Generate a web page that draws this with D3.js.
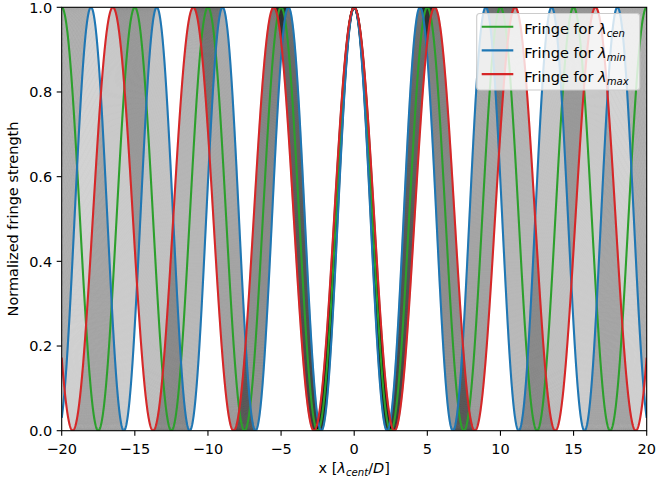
<!DOCTYPE html>
<html>
<head>
<meta charset="utf-8">
<script src="https://cdn.jsdelivr.net/npm/d3@7"></script>
<style>
  html, body { margin: 0; padding: 0; background: #fff; }
  svg { display: block; font-family: "DejaVu Sans", sans-serif; }
</style>
</head>
<body>
<svg id="chart" width="656" height="484"></svg>
<script>
// ---- data ----
const fringePeriod = 5;              // fringe spacing for lambda_cen, in lambda_cent/D
const lambdaCen = 1.0;
const seriesLabels = ["cen", "min", "max"];
const seriesLambdas = [1.0, 0.9, 1.1];  // relative to lambda_cen
const seriesColors = ["#2ca02c", "#1f77b4", "#d62728"];
const bandLambdas = [
  0.900,0.902,0.904,0.906,0.908,0.910,0.912,0.914,0.916,0.918,
  0.920,0.922,0.924,0.926,0.928,0.930,0.932,0.934,0.936,0.938,
  0.940,0.942,0.944,0.946,0.948,0.950,0.952,0.954,0.956,0.958,
  0.960,0.962,0.964,0.966,0.968,0.970,0.972,0.974,0.976,0.978,
  0.980,0.982,0.984,0.986,0.988,0.990,0.992,0.994,0.996,0.998,
  1.000,1.002,1.004,1.006,1.008,1.010,1.012,1.014,1.016,1.018,
  1.020,1.022,1.024,1.026,1.028,1.030,1.032,1.034,1.036,1.038,
  1.040,1.042,1.044,1.046,1.048,1.050,1.052,1.054,1.056,1.058,
  1.060,1.062,1.064,1.066,1.068,1.070,1.072,1.074,1.076,1.078,
  1.080,1.082,1.084,1.086,1.088,1.090,1.092,1.094,1.096,1.098,
  1.100
];
const xTicks = [-20, -15, -10, -5, 0, 5, 10, 15, 20];
const yTicks = [0.0, 0.2, 0.4, 0.6, 0.8, 1.0];
const xDomain = [-20, 20];
const yDomain = [0, 1];

// ---- layout ----
const L = 61.7, R = 646.7, T = 7.3, B = 430.7;
const FS = 14.5;
const svg = d3.select("#chart");
const x = d3.scaleLinear().domain(xDomain).range([L, R]);
const y = d3.scaleLinear().domain(yDomain).range([B, T]);

const fringe = (xv, lam) => {
  const c = Math.cos(Math.PI * xv * lambdaCen / (fringePeriod * lam));
  return c * c;
};
const xs = d3.range(0, 2001).map(i => xDomain[0] + (xDomain[1] - xDomain[0]) * i / 2000);

svg.append("defs").append("clipPath").attr("id", "clip")
  .append("rect").attr("x", L).attr("y", T).attr("width", R - L).attr("height", B - T);

const plot = svg.append("g").attr("clip-path", "url(#clip)");
const line = d3.line().x(d => x(d[0])).y(d => y(d[1]));

plot.selectAll("path.band").data(bandLambdas).enter().append("path")
  .attr("class", "band")
  .attr("d", lam => line(xs.map(v => [v, fringe(v, lam)])))
  .attr("fill", "none").attr("stroke", "#000").attr("stroke-opacity", 0.05)
  .attr("stroke-width", 2.1);

seriesLambdas.forEach((lam, i) => {
  plot.append("path")
    .attr("d", line(xs.map(v => [v, fringe(v, lam)])))
    .attr("fill", "none").attr("stroke", seriesColors[i]).attr("stroke-width", 2.1);
});

// ---- axes ----
const fmtX = d => (d < 0 ? "\u2212" : "") + Math.abs(d);
const fmtY = d3.format(".1f");
const ax = svg.append("g");
xTicks.forEach(t => {
  ax.append("line").attr("x1", x(t)).attr("x2", x(t)).attr("y1", B).attr("y2", B + 5)
    .attr("stroke", "#000").attr("stroke-width", 1.1);
  ax.append("text").attr("x", x(t)).attr("y", 454).attr("text-anchor", "middle")
    .attr("font-size", FS).text(fmtX(t));
});
yTicks.forEach(t => {
  ax.append("line").attr("x1", L - 5).attr("x2", L).attr("y1", y(t)).attr("y2", y(t))
    .attr("stroke", "#000").attr("stroke-width", 1.1);
  ax.append("text").attr("x", L - 9.5).attr("y", y(t) + 5.3).attr("text-anchor", "end")
    .attr("font-size", FS).text(fmtY(t));
});
svg.append("rect").attr("x", L).attr("y", T).attr("width", R - L).attr("height", B - T)
  .attr("fill", "none").attr("stroke", "#000").attr("stroke-width", 1.1);

// x label
const xl = svg.append("text").attr("x", (L + R) / 2).attr("y", 473)
  .attr("text-anchor", "middle").attr("font-size", FS);
xl.append("tspan").text("x [");
xl.append("tspan").attr("font-style", "italic").text("λ");
xl.append("tspan").attr("font-style", "italic").attr("font-size", FS * 0.7).attr("dy", 3).text("cent");
xl.append("tspan").attr("dy", -3).text("/");
xl.append("tspan").attr("font-style", "italic").text("D");
xl.append("tspan").text("]");

// y label
svg.append("text").attr("transform", `translate(18,${(T + B) / 2}) rotate(-90)`)
  .attr("text-anchor", "middle").attr("font-size", FS).text("Normalized fringe strength");

// ---- legend ----
const lg = svg.append("g");
lg.append("rect").attr("x", 476.7).attr("y", 13.5).attr("width", 163).attr("height", 76.5)
  .attr("rx", 3).attr("fill", "#fff").attr("fill-opacity", 0.8)
  .attr("stroke", "#cccccc").attr("stroke-width", 1.1);
seriesLabels.forEach((lab, i) => {
  const cy = 26.7 + i * 23.7;
  lg.append("line").attr("x1", 481.7).attr("x2", 513.3).attr("y1", cy).attr("y2", cy)
    .attr("stroke", seriesColors[i]).attr("stroke-width", 2.1);
  const t = lg.append("text").attr("x", 524.3).attr("y", cy + 7.6).attr("font-size", FS);
  t.append("tspan").text("Fringe for ");
  t.append("tspan").attr("font-style", "italic").text("λ");
  t.append("tspan").attr("font-style", "italic").attr("font-size", FS * 0.7).attr("dy", 3).text(lab);
});
</script>
</body>
</html>
